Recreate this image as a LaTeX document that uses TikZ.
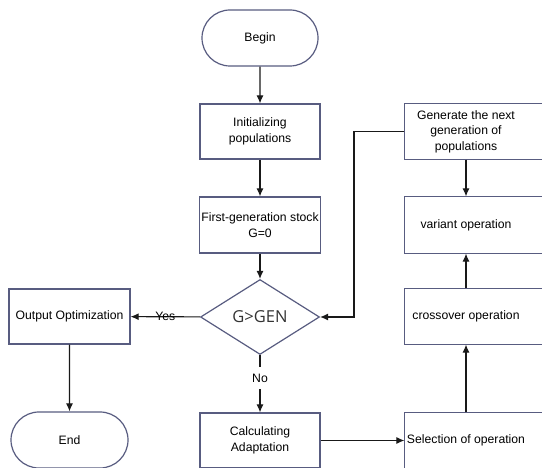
\documentclass[tikz,border=0pt]{standalone}
\usepackage{fontspec}
\setmainfont{Liberation Sans}
\newfontfamily\gfont{Open Sans}
\usepackage{tikz}
\usetikzlibrary{shapes,shapes.misc,arrows.meta}
\definecolor{boxc}{RGB}{88,92,128}

\begin{document}
\begin{tikzpicture}[->, >={Latex[length=8pt,width=7pt]}, x=1pt, y=-1pt, line width=1.1pt, color=black!90]
   \useasboundingbox (0,0) rectangle (542,468);
   \fontsize{12.2}{15.5}\selectfont
   \tikzstyle{box}=[rectangle, draw=boxc, line width=1.2pt, minimum width=120pt, minimum height=55pt, align=center, inner sep=2pt, text=black]
   \tikzstyle{term}=[box, rounded rectangle, minimum height=56pt]
   \tikzstyle{open}=[box, draw=none, minimum width=122pt]
   \node[term] (begin) at (260,38) {Begin};
   \node[box] (init) at (260,131.5) {Initializing\\populations};
   \node[box, minimum height=56pt] (first) at (260,225) {First-generation stock\\G=0};
   \node[diamond, draw=boxc, line width=1.2pt, minimum width=119pt, minimum height=75pt, inner sep=0pt, text=black!80] (gt) at (260,317) {\gfont\fontsize{16.5}{18}\selectfont G>GEN};
   \node[box, minimum width=121pt] (out) at (69.5,316.5) {Output Optimization};
   \node[term, minimum width=121pt] (end) at (69.5,440) {End};
   \node[box] (calc) at (260,440.5) {Calculating\\Adaptation};
   \node[open] (sel) at (466,440.5) {Selection of operation};
   \node[open] (cross) at (466,316.5) {crossover operation};
   \node[open, minimum height=56pt] (var) at (466,225) {variant operation};
   \node[open] (gen) at (466,131.5) {Generate the next\\generation of\\populations};
   % right column boxes run past the page edge
   \foreach \n in {sel,cross,var,gen} {
       \draw[-, boxc, line width=1.2pt] ([xshift=40pt]\n.north east) -| (\n.south west) -- ++(170,0);
   }
   \coordinate (bend) at (354,131.5);
   \foreach \a/\b in {begin/init,init/first,first/gt,out/end,calc/sel,sel/cross,cross/var,gen/var} {
       \path (\a) edge (\b);
   }
   \path (gt) edge node[text=black] {Yes} (out);
   \path (gt) edge node[pos=0.4, fill=white, text=black, inner xsep=2pt, inner ysep=7pt] {No} (calc);
   \draw (gen.west) -- (bend) |- (gt.east);
\end{tikzpicture}
\end{document}
